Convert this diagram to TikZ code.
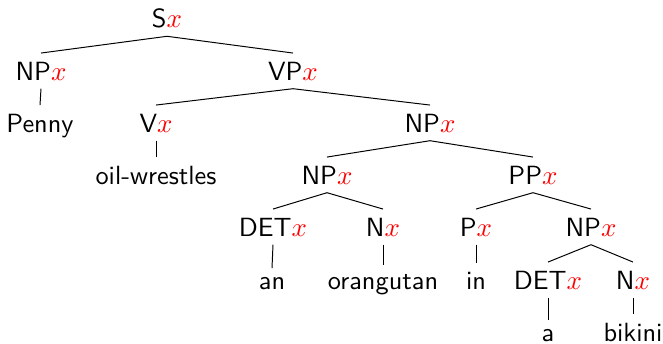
\documentclass[tikz,border=0pt]{standalone}
\usepackage{tikz}

\newcommand{\redx}{\textcolor{red}{$x$}}

\begin{document}
\begin{tikzpicture}[x=0.4064pt,y=-0.4064pt,font=\sffamily\fontsize{10.7}{13}\selectfont,every node/.style={anchor=base}]
\useasboundingbox (0,0) rectangle (663,343);
\node (s) at (167,27) {S\redx};
\node (np) at (41,80) {NP\redx};
\node (penny) at (40,132) {Penny};
\node (vp) at (293,80) {VP\redx};
\node (v) at (156,132) {V\redx};
\node (wrestles) at (156,184) {oil-wrestles};
\node (np2) at (430,132) {NP\redx};
\node (np3) at (327,184) {NP\redx};
\node (pp) at (533,184) {PP\redx};
\node (det) at (273,236) {DET\redx};
\node (n) at (383,236) {N\redx};
\node (p) at (476,236) {P\redx};
\node (np4) at (591,236) {NP\redx};
\node (an) at (272,289) {an};
\node (orangutan) at (383,289) {orangutan};
\node (in) at (476,289) {in};
\node (det2) at (548,289) {DET\redx};
\node (n2) at (633,289) {N\redx};
\node (a) at (548,341) {a};
\node (bikini) at (633,341) {bikini};
\draw (s.south)--(np.north);
\draw (s.south)--(vp.north);
\draw (np.south)--(penny.north);
\draw (vp.south)--(v.north);
\draw (vp.south)--(np2.north);
\draw (v.south)--(wrestles.north);
\draw (np2.south)--(np3.north);
\draw (np2.south)--(pp.north);
\draw (np3.south)--(det.north);
\draw (np3.south)--(n.north);
\draw (det.south)--(an.north);
\draw (n.south)--(orangutan.north);
\draw (pp.south)--(p.north);
\draw (pp.south)--(np4.north);
\draw (p.south)--(in.north);
\draw (np4.south)--(det2.north);
\draw (np4.south)--(n2.north);
\draw (det2.south)--(a.north);
\draw (n2.south)--(bikini.north);
\end{tikzpicture}
\end{document}
